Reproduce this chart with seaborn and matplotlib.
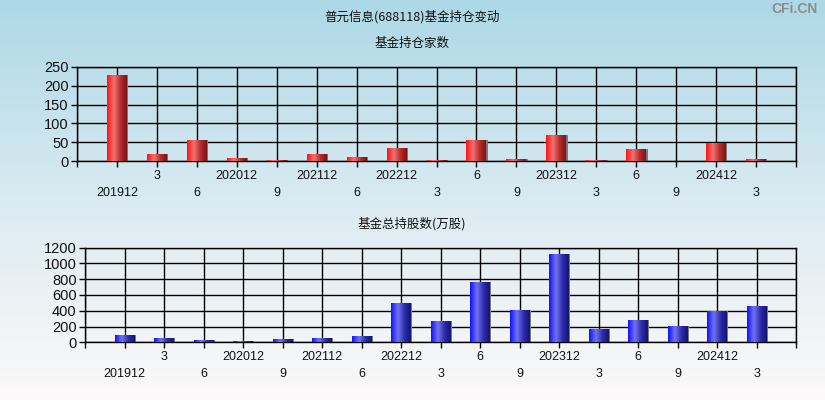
import numpy as np
import pandas as pd
import matplotlib
matplotlib.use("Agg")
import matplotlib.pyplot as plt
from matplotlib.colors import LinearSegmentedColormap
from matplotlib.patches import Rectangle
import seaborn as sns

categories = ["201912", "202003", "202006", "202012", "202109", "202112", "202206",
              "202212", "202303", "202306", "202309", "202312", "202403", "202406",
              "202409", "202412", "202503"]
tick_labels = ["201912", "3", "6", "202012", "9", "202112", "6", "202212", "3", "6",
               "9", "202312", "3", "6", "9", "202412", "3"]
fund_counts = [227, 19, 56, 9, 3, 19, 11, 35, 3, 56, 6, 70, 3, 33, 2, 49, 6]
fund_shares = [93, 55, 30, 15, 42, 55, 80, 498, 270, 764, 405, 1119, 168, 282, 203, 401, 460]

title = "普元信息(688118)基金持仓变动"
sub1 = "基金持仓家数"
sub2 = "基金总持股数(万股)"

sns.set_theme(style="white")
plt.rcParams['font.family'] = ['Liberation Sans', 'DejaVu Sans']
cjk = ['Noto Sans CJK SC', 'DejaVu Sans']

W, H = 825, 400
fig = plt.figure(figsize=(W / 100, H / 100), dpi=100)

# background gradient
bg = fig.add_axes([0, 0, 1, 1], zorder=-10)
bg_cmap = LinearSegmentedColormap.from_list(
    "bg", [(0.0, (173/255, 216/255, 230/255)), (0.55, (222/255, 236/255, 242/255)),
           (1.0, (252/255, 249/255, 249/255))])
bg.imshow(np.linspace(0, 1, 256).reshape(-1, 1), aspect="auto", cmap=bg_cmap,
          extent=[0, 1, 0, 1], origin="upper")
bg.set_axis_off()

red_cmap = LinearSegmentedColormap.from_list(
    "red", [(0.0, "#ff1010"), (0.35, "#f27272"), (0.7, "#b42a2a"), (1.0, "#7a1414")])
blue_cmap = LinearSegmentedColormap.from_list(
    "blue", [(0.0, "#1010ff"), (0.35, "#7272f0"), (0.7, "#2a2aa8"), (1.0, "#141470")])

n = len(categories)
labels2 = [("\n" + t) if i % 2 == 0 else (t + "\n") for i, t in enumerate(tick_labels)]


def draw(ax, vals, cmap, ymax, ystep):
    df = pd.DataFrame({"cat": categories, "val": vals})
    sns.barplot(data=df, x="cat", y="val", ax=ax, width=0.5, color="red",
                order=categories, zorder=3)
    grad = np.linspace(0, 1, 128).reshape(1, -1)
    for p in list(ax.patches):
        x0, y0 = p.get_x(), p.get_y()
        w, h = p.get_width(), p.get_height()
        p.set_visible(False)
        sh = Rectangle((x0 + 0.035, y0), w, h, facecolor="#7a7a7a", edgecolor="none", zorder=2.5)
        ax.add_patch(sh)
        im = ax.imshow(grad, cmap=cmap, aspect="auto", extent=[x0, x0 + w, y0, y0 + h],
                       zorder=3, interpolation="bilinear")
        clip = Rectangle((x0, y0), w, h, transform=ax.transData)
        im.set_clip_path(clip)
    ax.set_facecolor("none")
    ax.set_xlim(-1, n)
    ax.set_ylim(0, ymax)
    ax.set_yticks(np.arange(0, ymax + 1, ystep))
    ax.set_xticks(range(-1, n + 1))
    ax.set_xticklabels([""] + labels2 + [""], fontsize=9, linespacing=1.6, color="#111111")
    ax.tick_params(axis="x", length=4, width=1, color="black", direction="out", pad=2,
                   bottom=True)
    ax.tick_params(axis="y", length=4, width=1, color="black", direction="out", pad=2,
                   left=True, labelsize=10.5, labelcolor="#111111")
    ax.grid(True, color="black", linewidth=1)
    ax.set_axisbelow(True)
    for s in ax.spines.values():
        s.set_color("black")
        s.set_linewidth(1)
        s.set_visible(True)
    ax.set_xlabel("")
    ax.set_ylabel("")


ax1 = fig.add_axes([77 / W, 1 - 161.3 / H, (796 - 77) / W, (161.3 - 66.7) / H])
draw(ax1, fund_counts, red_cmap, 250, 50)
ax2 = fig.add_axes([85 / W, 1 - 342.3 / H, (796 - 85) / W, (342.3 - 247.7) / H])
draw(ax2, fund_shares, blue_cmap, 1200, 200)

fig.text(412 / W, 1 - 17 / H, title, ha="center", va="center", fontsize=9,
         family=cjk, color="#111111")
fig.text(412 / W, 1 - 43 / H, sub1, ha="center", va="center", fontsize=9,
         family=cjk, color="#111111")
fig.text(412 / W, 1 - 224 / H, sub2, ha="center", va="center", fontsize=9,
         family=cjk, color="#111111")
fig.text(818 / W, 1 - 9 / H, "CFi.CN", ha="right", va="center", fontsize=10,
         fontweight="bold", color="#8c8c8c")

fig.savefig("out.png", dpi=100)
